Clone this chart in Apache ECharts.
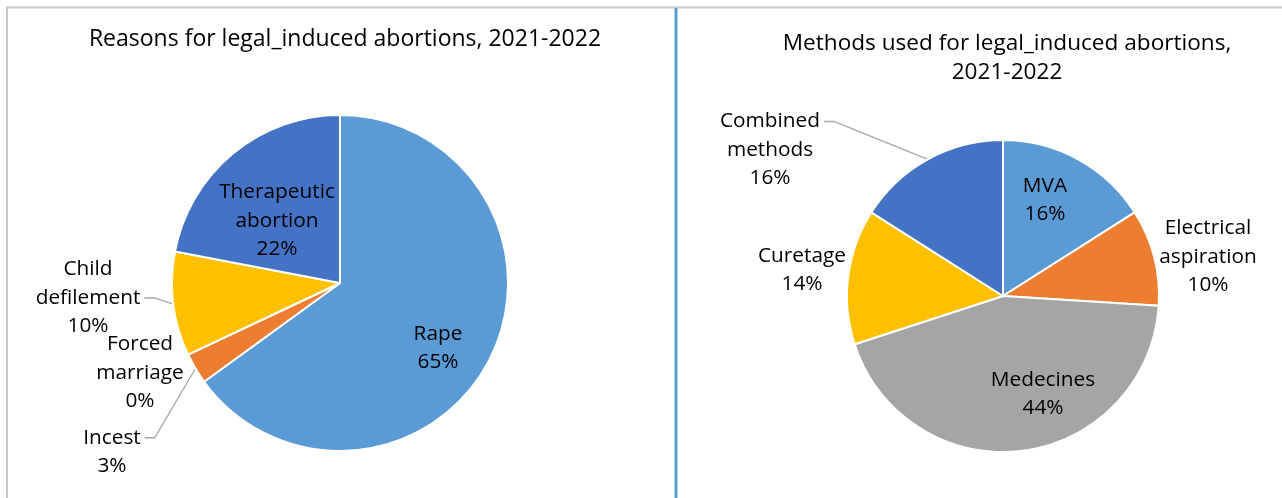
<!DOCTYPE html>
<html>
<head>
<meta charset="utf-8">
<title>Legal induced abortions, 2021-2022</title>
<script src="https://cdn.jsdelivr.net/npm/echarts@6/dist/echarts.min.js"></script>
<style>
  html, body { margin: 0; padding: 0; background: #ffffff; }
  #chart { width: 1282px; height: 498px; }
</style>
</head>
<body>
<div id="chart"></div>
<script>
// Reasons for legal induced abortions (percent)
const reasonNames = ['Rape', 'Incest', 'Forced\nmarriage', 'Child\ndefilement', 'Therapeutic\nabortion'];
const reasonValues = [65, 3, 0, 10, 22];

// Methods used for legal induced abortions (percent)
const methodNames = ['MVA', 'Electrical\naspiration', 'Medecines', 'Curetage', 'Combined\nmethods'];
const methodValues = [16, 10, 44, 14, 16];

// Office-style slice colours, in slice order
const sliceColors = ['#5B9BD5', '#ED7D31', '#A5A5A5', '#FFC000', '#4472C4'];

// Which labels sit inside their slice
const reasonInside = [true, false, false, false, true];
const methodInside = [true, false, true, false, false];
// Text row a leader line leaves from (-1: no leader line)
const reasonLeaderRow = [-1, 0, -1, 1, -1];
const methodLeaderRow = [-1, -1, -1, -1, 0];

// Label anchor points (label centres)
const reasonLabelPos = [[438, 348], [112, 452], [140, 373], [88, 298], [277, 221]];
const methodLabelPos = [[1045, 200], [1208, 257], [1043, 394], [802, 270], [770, 150]];

const FONT = 'Open Sans';
const LABEL_LINE_H = 28.5;

function buildData(names, values, inside, leaderRow) {
  return names.map(function (n, i) {
    return {
      name: n,
      value: values[i],
      itemStyle: { color: sliceColors[i] },
      label: { position: inside[i] ? 'inside' : 'outside' },
      labelLine: { show: leaderRow[i] >= 0 }
    };
  });
}

function makeSeries(names, values, inside, leaderRow, center, radius, labelPos) {
  return {
    type: 'pie',
    center: center,
    radius: radius,
    startAngle: 90,
    clockwise: true,
    avoidLabelOverlap: false,
    animation: false,
    itemStyle: { borderColor: '#ffffff', borderWidth: 2 },
    label: {
      show: true,
      formatter: function (p) { return p.name + '\n' + p.value + '%'; },
      fontFamily: FONT,
      fontSize: 20.8,
      lineHeight: LABEL_LINE_H,
      color: '#000000',
      align: 'center'
    },
    labelLine: {
      show: false,
      length: 8,
      length2: 10,
      lineStyle: { color: '#A6A6A6', width: 1.3 }
    },
    labelLayout: function (params) {
      const i = params.dataIndex;
      const p = labelPos[i];
      const out = { x: p[0], y: p[1], align: 'center', verticalAlign: 'middle' };
      const row = leaderRow[i];
      const pts = params.labelLinePoints;
      if (row >= 0 && pts && pts.length) {
        // keep the library's anchor on the slice edge, start the line
        // at the right end of the chosen text row
        const w = params.labelRect.width;
        const h = params.labelRect.height;
        const sx = p[0] + w / 2 + 4;
        const sy = p[1] - h / 2 + LABEL_LINE_H * (row + 0.5);
        out.labelLinePoints = [pts[0], [sx + 10, sy], [sx, sy]];
      }
      return out;
    },
    emphasis: { disabled: true },
    data: buildData(names, values, inside, leaderRow)
  };
}

const chart = echarts.init(document.getElementById('chart'), null, { renderer: 'canvas' });

chart.setOption({
  backgroundColor: '#ffffff',
  title: [
    {
      text: 'Reasons for legal_induced abortions, 2021-2022',
      left: 340, top: 23, textAlign: 'center',
      textStyle: { fontFamily: FONT, fontSize: 23, fontWeight: 'normal', color: '#000000' }
    },
    {
      text: 'Methods used for legal_induced abortions,\n2021-2022',
      left: 1002, top: 24, textAlign: 'center',
      textStyle: { fontFamily: FONT, fontSize: 22.6, fontWeight: 'normal', color: '#000000', lineHeight: 29 }
    }
  ],
  graphic: [
    // outer frame and the divider between the two panels
    { type: 'line', shape: { x1: 6, y1: 7.5, x2: 1282, y2: 7.5 }, style: { stroke: '#C8C8C8', lineWidth: 2 }, silent: true },
    { type: 'line', shape: { x1: 7, y1: 7, x2: 7, y2: 498 }, style: { stroke: '#C8C8C8', lineWidth: 2 }, silent: true },
    { type: 'line', shape: { x1: 676, y1: 8, x2: 676, y2: 498 }, style: { stroke: '#5B9BD5', lineWidth: 3 }, silent: true }
  ],
  series: [
    makeSeries(reasonNames, reasonValues, reasonInside, reasonLeaderRow, [340, 283], 168, reasonLabelPos),
    makeSeries(methodNames, methodValues, methodInside, methodLeaderRow, [1003, 296], 156, methodLabelPos)
  ]
});
</script>
</body>
</html>
